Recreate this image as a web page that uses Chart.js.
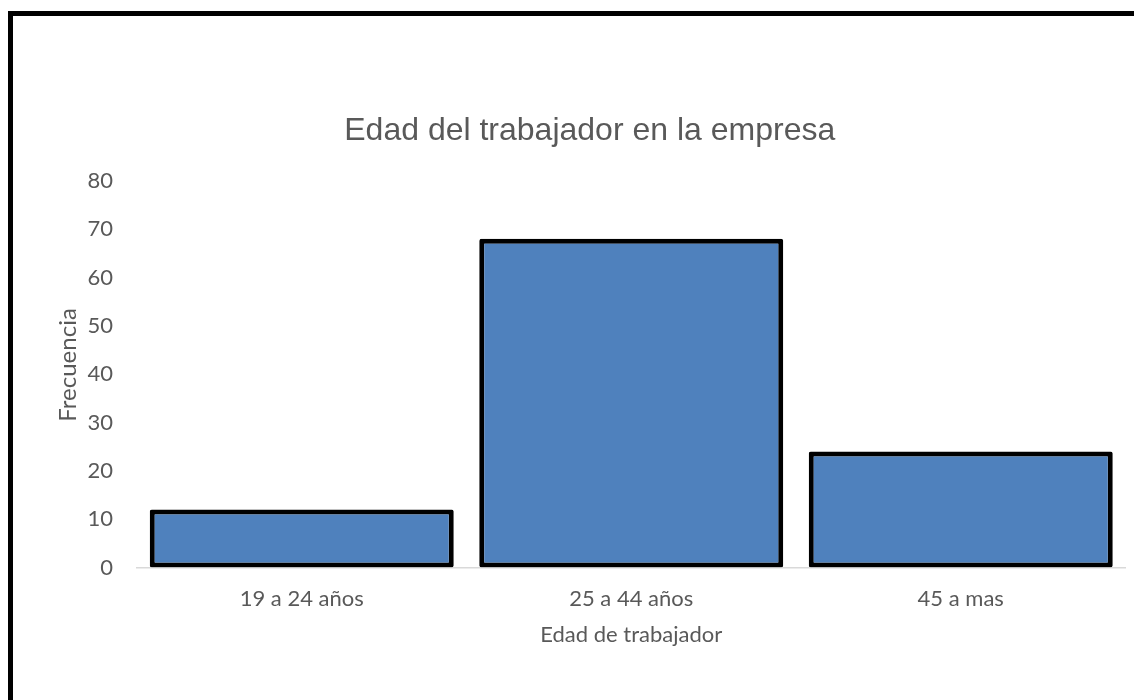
<!DOCTYPE html>
<html>
<head>
<meta charset="utf-8">
<script src="https://cdn.jsdelivr.net/npm/chart.js@4/dist/chart.umd.min.js"></script>
<style>
  html, body { margin: 0; padding: 0; background: #ffffff; overflow: hidden; }
  #frame { position: absolute; left: 8px; top: 11px; width: 1300px; height: 900px; border: 5px solid #000; box-sizing: content-box; }
  #c { position: absolute; left: 0; top: 0; }
</style>
</head>
<body>
<div id="frame"></div>
<canvas id="c" width="1134" height="700"></canvas>
<script>
const categories = ['19 a 24 años', '25 a 44 años', '45 a mas'];
const frecuencia = [12, 68, 24];
const chartTitle = 'Edad del trabajador en la empresa';
const yTitle = '   Frecuencia';
const xTitle = 'Edad de trabajador';

const textColor = '#595959';
const axisFont = { family: 'Lato', size: 22 };

new Chart(document.getElementById('c'), {
  type: 'bar',
  data: {
    labels: categories,
    datasets: [{
      data: frecuencia,
      backgroundColor: '#4f81bd',
      borderColor: '#000000',
      borderWidth: 5,
      borderSkipped: false,
      borderRadius: 2,
      categoryPercentage: 1,
      barPercentage: 0.9226
    }]
  },
  options: {
    responsive: false,
    animation: false,
    devicePixelRatio: 1,
    layout: { padding: { left: 54, right: 8.5, top: 0, bottom: 52.3 } },
    plugins: {
      legend: { display: false },
      tooltip: { enabled: false },
      title: {
        display: true,
        text: chartTitle,
        color: textColor,
        font: { family: 'Liberation Sans', size: 32, weight: 'normal' },
        padding: { top: 112.2, bottom: 30.2 }
      }
    },
    scales: {
      x: {
        grid: { display: false, drawTicks: false },
        border: { display: true, color: '#d9d9d9', width: 1.5 },
        ticks: { color: textColor, font: axisFont, padding: 18.3 },
        title: { display: true, text: xTitle, color: textColor, font: axisFont, padding: { top: 0, bottom: 0 } },
        afterFit: (scale) => { scale.height = 80.2; }
      },
      y: {
        min: 0,
        max: 80,
        grid: { display: false, drawTicks: false },
        border: { display: false },
        ticks: { stepSize: 10, color: textColor, font: axisFont, padding: 24 },
        title: { display: true, text: yTitle, color: textColor, font: { family: 'Lato', size: 24 }, padding: { top: 0, bottom: 0 } },
        afterFit: (scale) => { scale.width = 83; }
      }
    }
  }
});
</script>
</body>
</html>
